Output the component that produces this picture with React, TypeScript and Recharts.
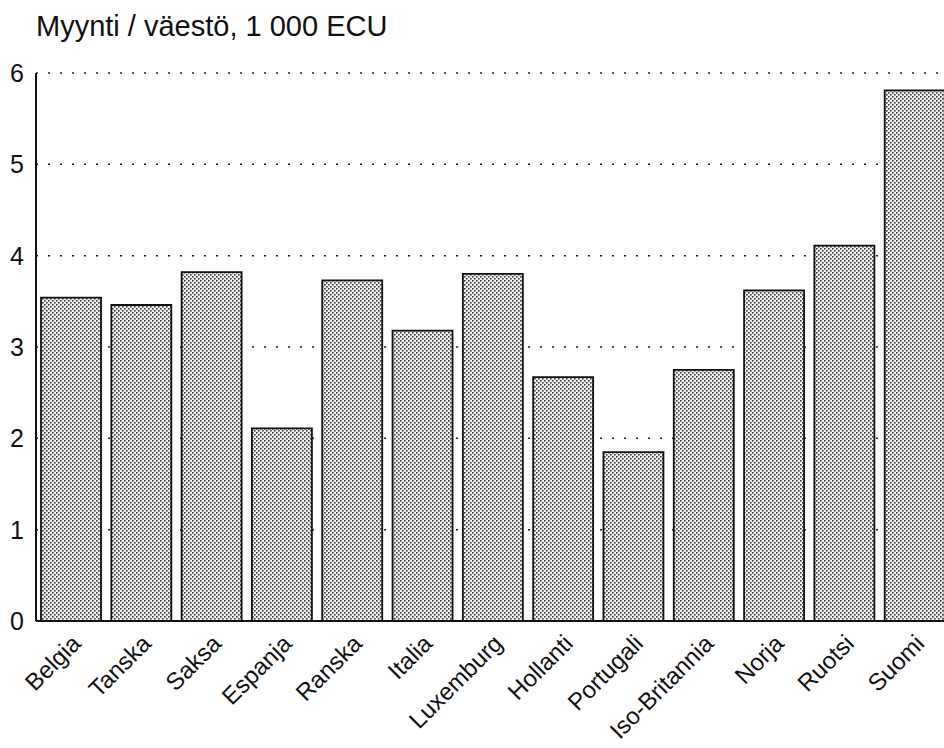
import React from 'react';
import { BarChart, Bar, XAxis, YAxis, CartesianGrid } from 'recharts';

const countries = [
  'Belgia', 'Tanska', 'Saksa', 'Espanja', 'Ranska', 'Italia', 'Luxemburg',
  'Hollanti', 'Portugali', 'Iso-Britannia', 'Norja', 'Ruotsi', 'Suomi',
];
const salesPerCapita = [3.54, 3.46, 3.82, 2.11, 3.73, 3.18, 3.8, 2.67, 1.85, 2.75, 3.62, 4.11, 5.81];
const yTicks = [0, 1, 2, 3, 4, 5, 6];

const FONT = '"Liberation Sans", Arial, Helvetica, sans-serif';

// rotated category labels, the end of the text sits under the bar
const CountryTick = (props: any) => {
  const { x, y, payload } = props;
  return (
    <g transform={`translate(${x + 11},${y + 16})`}>
      <text transform="rotate(-45)" textAnchor="end" fontSize={24} fontFamily={FONT} fill="#111">
        {payload.value}
      </text>
    </g>
  );
};

const App: React.FC = () => {
  const data = countries.map((name, i) => ({ name, value: salesPerCapita[i] }));

  return (
    <div style={{ position: 'absolute', left: 0, top: 0, width: 944, height: 748, overflow: 'hidden', background: '#fff' }}>
      <div style={{ position: 'absolute', left: 36, top: 12, fontFamily: FONT, fontSize: 29, lineHeight: '29px', color: '#111', whiteSpace: 'nowrap' }}>
        Myynti / väestö, 1 000 ECU
      </div>
      <BarChart
        width={950}
        height={748}
        data={data}
        margin={{ top: 73, right: 0, bottom: 0, left: 0 }}
        barCategoryGap={5}
      >
        <defs>
          <pattern id="stipple" width="4" height="4" patternUnits="userSpaceOnUse">
            <rect width="4" height="4" fill="#f0f0f0" />
            <rect x="0" y="0" width="1.6" height="1.6" fill="#3a3a3a" />
            <rect x="2" y="2" width="1.6" height="1.6" fill="#3a3a3a" />
          </pattern>
        </defs>
        <CartesianGrid vertical={false} stroke="#222" strokeWidth={1.5} strokeDasharray="2 10" />
        <XAxis
          dataKey="name"
          interval={0}
          height={127}
          tick={<CountryTick />}
          tickLine={false}
          axisLine={{ stroke: '#111', strokeWidth: 2 }}
        />
        <YAxis
          domain={[0, 6]}
          ticks={yTicks}
          width={36}
          tickLine={false}
          axisLine={{ stroke: '#111', strokeWidth: 2 }}
          tick={{ fontSize: 25, fontFamily: FONT, fill: '#111', dx: -4 }}
        />
        <Bar dataKey="value" fill="url(#stipple)" stroke="#111" strokeWidth={1.8} isAnimationActive={false} />
      </BarChart>
    </div>
  );
};

export default App;
